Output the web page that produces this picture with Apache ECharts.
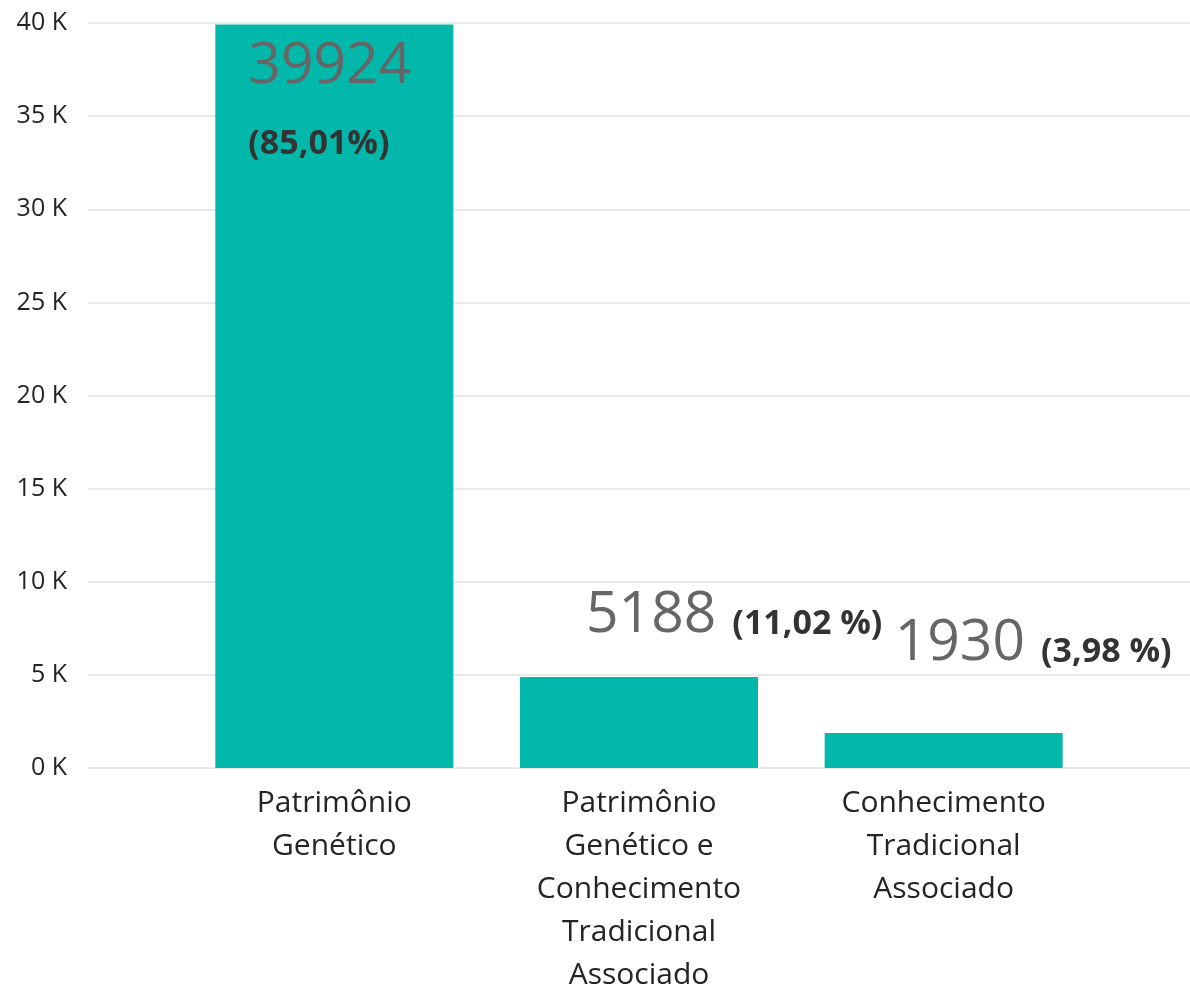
<!DOCTYPE html>
<html>
<head>
    <meta charset="UTF-8">
    <title></title>
    <style>
        html, body { margin: 0; padding: 0; background: #fff; }
    </style>
</head>
<body>
<div id="chart" style="width: 1190px;height: 991px;"></div>
<script src="https://cdn.jsdelivr.net/npm/echarts@6/dist/echarts.min.js"></script>
<script>
    // dados
    var categorias = ['Patrimônio\nGenético', 'Patrimônio\nGenético e\nConhecimento\nTradicional\nAssociado', 'Conhecimento\nTradicional\nAssociado'];
    var valores = [39924, 4880, 1880];
    var rotulosValor = ['39924', '5188', '1930'];
    var rotulosPct = ['(85,01%)', '(11,02 %)', '(3,98 %)'];

    var fonte = '"Open Sans", "Noto Sans", sans-serif';
    var corBarra = '#01B8AA';

    // posicao dos rotulos em relacao ao retangulo de cada barra
    var posRotulo = [[33, 7], [66, -96], [70, -124]];

    var myChart = echarts.init(document.getElementById('chart'));

    var dados = valores.map(function (v, i) {
        var texto = i === 0
            ? '{a|' + rotulosValor[i] + '}\n{b|' + rotulosPct[i] + '}'
            : '{a|' + rotulosValor[i] + '}{c|' + rotulosPct[i] + '}';
        return {
            value: v,
            label: {
                show: true,
                position: posRotulo[i],
                formatter: texto
            }
        };
    });

    var option = {
        animation: false,
        grid: [
            {left: 88, right: 0, top: 23, bottom: 223, outerBoundsMode: 'none'},
            {left: 182, right: 94, top: 23, bottom: 223, outerBoundsMode: 'none'}
        ],
        xAxis: [
            {gridIndex: 0, type: 'value', show: false, min: 0, max: 1},
            {
                gridIndex: 1,
                type: 'category',
                data: categorias,
                axisLine: {show: false},
                axisTick: {show: false},
                axisLabel: {
                    interval: 0,
                    margin: 14,
                    fontFamily: fonte,
                    fontSize: 30,
                    lineHeight: 43,
                    color: '#252423'
                }
            }
        ],
        yAxis: [
            {
                gridIndex: 0,
                type: 'value',
                min: 0,
                max: 40000,
                interval: 5000,
                axisLine: {show: false},
                axisTick: {show: false},
                splitLine: {lineStyle: {color: '#e9e9e9', width: 2}},
                axisLabel: {
                    margin: 21,
                    fontFamily: fonte,
                    fontSize: 25,
                    color: '#252423',
                    formatter: function (v) { return (v / 1000) + ' K'; }
                }
            },
            {gridIndex: 1, type: 'value', min: 0, max: 40000, show: false}
        ],
        series: [
            {
                type: 'bar',
                xAxisIndex: 1,
                yAxisIndex: 1,
                barWidth: 238,
                itemStyle: {color: corBarra},
                label: {
                    show: true,
                    fontFamily: fonte,
                    rich: {
                        a: {fontFamily: fonte, fontSize: 57, color: '#666666', lineHeight: 70},
                        b: {fontFamily: fonte, fontSize: 34, fontWeight: 'bold', color: '#333333', lineHeight: 86},
                        c: {fontFamily: fonte, fontSize: 34, fontWeight: 'bold', color: '#333333', lineHeight: 70, padding: [16, 0, 0, 16]}
                    }
                },
                data: dados
            }
        ]
    };

    myChart.setOption(option);
</script>
</body>
</html>
